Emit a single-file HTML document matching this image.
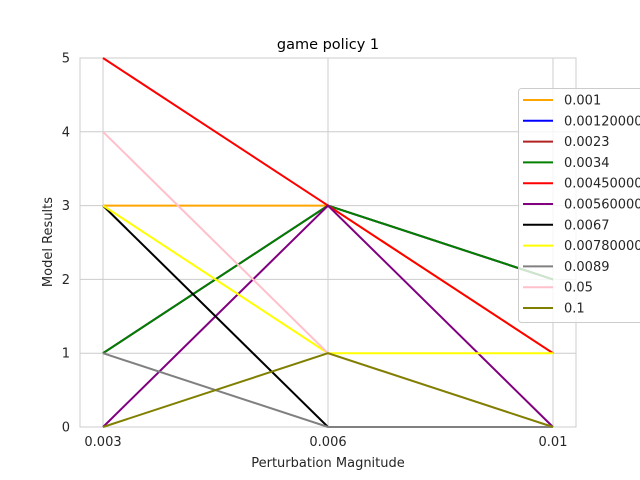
<!DOCTYPE html>
<html><head><meta charset="utf-8"><style>
html,body{margin:0;padding:0;background:#fff;}
svg{display:block;font-family:"DejaVu Sans","Liberation Sans",sans-serif;}
</style></head><body>
<svg id="chart" width="640" height="480" viewBox="0 0 640 480" xmlns="http://www.w3.org/2000/svg">
<rect x="0" y="0" width="640" height="480" fill="#fff"/>
<g id="grid"></g>
<rect x="80" y="58" width="496" height="369" fill="none" stroke="#cccccc" stroke-width="1"/>
<g id="series"></g>
<g id="ticks"></g>
<text x="328" y="49" text-anchor="middle" font-size="14.5" fill="#000">game policy 1</text>
<text x="328" y="467" text-anchor="middle" font-size="13" fill="#262626">Perturbation Magnitude</text>
<text x="52" y="242" text-anchor="middle" font-size="13" fill="#262626" transform="rotate(-90 52 242)">Model Results</text>
<g id="legend"></g>
</svg>
<script>
const categories = ["0.003","0.006","0.01"];
const yTicks = [0,1,2,3,4,5];
const seriesNames = ["0.001","0.00120000","0.0023","0.0034","0.00450000","0.00560000","0.0067","0.00780000","0.0089","0.05","0.1"];
const seriesColors = ["orange","blue","#b22222","green","red","purple","black","yellow","gray","pink","olive"];
const s0 = [3,3,1];
const s1 = [1,3,2];
const s2 = [1,3,2];
const s3 = [1,3,2];
const s4 = [5,3,1];
const s5 = [0,3,0];
const s6 = [3,0,0];
const s7 = [3,1,1];
const s8 = [1,0,0];
const s9 = [4,1,0];
const s10 = [0,1,0];
const seriesValues = [s0,s1,s2,s3,s4,s5,s6,s7,s8,s9,s10];

const NS = "http://www.w3.org/2000/svg";
const X0 = 103, X1 = 553, Y0 = 427, Y1 = 58, YMAX = 5;
function xPos(i){ return X0 + (X1 - X0) * i / (categories.length - 1); }
function yPos(v){ return Y0 - (Y0 - Y1) * v / YMAX; }
function mk(tag, attrs, parent){ const e = document.createElementNS(NS, tag); for (const k in attrs) e.setAttribute(k, attrs[k]); parent.appendChild(e); return e; }

const grid = document.getElementById('grid');
const ticks = document.getElementById('ticks');
categories.forEach((c, i) => {
  const l = mk('line', {x1:xPos(i), x2:xPos(i), y1:Y1, y2:Y0, stroke:'#cccccc', 'stroke-width':1}, grid);
  
  
  const t = mk('text', {x:xPos(i), y:446, 'text-anchor':'middle', 'font-size':13, fill:'#262626'}, ticks);
  t.textContent = c;
  
  
});
yTicks.forEach(v => {
  const l = mk('line', {x1:80, x2:576, y1:yPos(v), y2:yPos(v), stroke:'#cccccc', 'stroke-width':1}, grid);
  
  
  const t = mk('text', {x:70, y:yPos(v) + 4.5, 'text-anchor':'end', 'font-size':13, fill:'#262626'}, ticks);
  t.textContent = v;
  
  
});

const sg = document.getElementById('series');
seriesValues.forEach((vals, k) => {
  const pts = vals.map((v, i) => xPos(i) + ',' + yPos(v)).join(' ');
  const p = mk('polyline', {points:pts, fill:'none', stroke:seriesColors[k], 'stroke-width':2}, sg);
  
  
});

const lg = document.getElementById('legend');
const box = mk('rect', {x:518.5, y:88.5, width:140, height:234, rx:3, fill:'#fff', 'fill-opacity':0.8, stroke:'#cccccc'}, lg);


seriesNames.forEach((n, k) => {
  const y = 100 + k * 20.8;
  const g = mk('g', {}, lg);
  
  
  mk('line', {x1:523, x2:553, y1:y, y2:y, stroke:seriesColors[k], 'stroke-width':2}, g);
  const t = mk('text', {x:564, y:y + 4.5, 'font-size':13, fill:'#262626'}, g);
  t.textContent = n;
});
</script>
</body></html>
